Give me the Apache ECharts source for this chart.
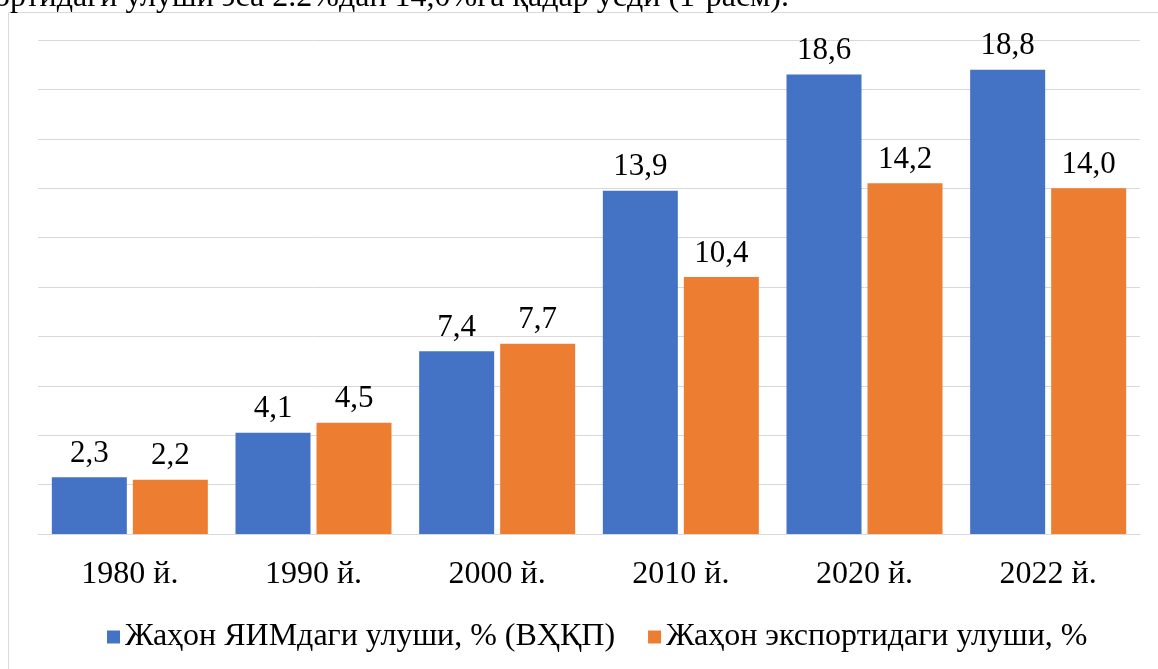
<!DOCTYPE html>
<html>
<head>
<meta charset="utf-8">
<script src="https://cdn.jsdelivr.net/npm/echarts@6/dist/echarts.min.js"></script>
<style>
  html, body { margin: 0; padding: 0; background: #fff; }
  #chart { width: 1158px; height: 669px; }
</style>
</head>
<body>
<div id="chart"></div>
<script>
var years = ['1980 й.', '1990 й.', '2000 й.', '2010 й.', '2020 й.', '2022 й.'];
var gdpShare = [2.3, 4.1, 7.4, 13.9, 18.6, 18.8];
var exportShare = [2.2, 4.5, 7.7, 10.4, 14.2, 14.0];
var seriesNames = ['Жаҳон ЯИМдаги улуши, % (ВҲҚП)', 'Жаҳон экспортидаги улуши, %'];

var serif = '"Liberation Serif", "DejaVu Serif", serif';

function fmt(p) {
  return p.value.toFixed(1).replace('.', ',');
}

var myChart = echarts.init(document.getElementById('chart'));
myChart.setOption({
  animation: false,
  textStyle: { fontFamily: serif },
  graphic: [
    {
      type: 'rect',
      shape: { x: 8.5, y: 12.5, width: 1200, height: 700 },
      style: { fill: 'none', stroke: '#d9d9d9', lineWidth: 1 }
    },
    {
      type: 'text',
      x: -6, y: -2,
      style: {
        text: 'ортидаги улуши эса 2.2%дан 14,0%га қадар ўсди (1-расм).',
        font: '32px ' + serif,
        fill: '#000',
        verticalAlign: 'middle'
      }
    }
  ],
  grid: { left: 38, right: 18, top: 40, bottom: 135 },
  legend: {
    top: 616,
    left: 102,
    itemWidth: 13,
    itemHeight: 13,
    itemGap: 33,
    icon: 'rect',
    textStyle: { fontFamily: serif, fontSize: 32, color: '#000' },
    data: seriesNames
  },
  xAxis: {
    type: 'category',
    data: years,
    axisLine: { lineStyle: { color: '#d9d9d9' } },
    axisTick: { show: false },
    axisLabel: { fontFamily: serif, fontSize: 32, color: '#000', margin: 25 }
  },
  yAxis: {
    type: 'value',
    min: 0, max: 20, interval: 2,
    axisLabel: { show: false },
    axisLine: { show: false },
    axisTick: { show: false },
    splitLine: { lineStyle: { color: '#d9d9d9' } }
  },
  series: [
    {
      name: seriesNames[0],
      type: 'bar',
      data: gdpShare,
      barWidth: 75,
      barGap: '8%',
      itemStyle: { color: '#4472c4' },
      label: { show: true, position: 'top', distance: 8, formatter: fmt,
               fontFamily: serif, fontSize: 31, color: '#000' }
    },
    {
      name: seriesNames[1],
      type: 'bar',
      data: exportShare,
      barWidth: 75,
      itemStyle: { color: '#ed7d31' },
      label: { show: true, position: 'top', distance: 8, formatter: fmt,
               fontFamily: serif, fontSize: 31, color: '#000' }
    }
  ]
});
</script>
</body>
</html>
